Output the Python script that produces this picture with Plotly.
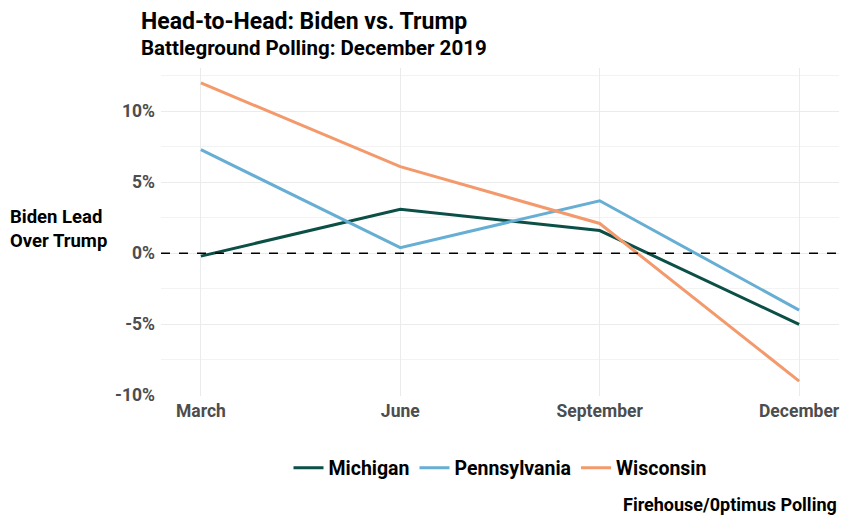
import plotly.graph_objects as go

months = ["March", "June", "September", "December"]
michigan = [-0.2, 3.1, 1.6, -5.0]
pennsylvania = [7.3, 0.4, 3.7, -4.0]
wisconsin = [12.0, 6.1, 2.1, -9.0]
y_ticks = [-10, -5, 0, 5, 10]
y_tick_labels = ["-10%", "-5%", "0%", "5%", "10%"]

series = [
    ("Michigan", michigan, "#0b4f47"),
    ("Pennsylvania", pennsylvania, "#67aed4"),
    ("Wisconsin", wisconsin, "#f4996b"),
]

FONT = "Roboto"
fig = go.Figure()
for name, vals, col in series:
    fig.add_trace(go.Scatter(x=months, y=vals, mode="lines", name=name,
                             line=dict(color=col, width=3)))

fig.add_shape(type="line", xref="paper", x0=0, x1=1, yref="y", y0=0, y1=0,
              line=dict(color="black", width=1.5, dash="dash"), layer="above",
              opacity=1)

fig.update_layout(
    width=843, height=516,
    margin=dict(l=161, r=4, t=68, b=120),
    plot_bgcolor="white", paper_bgcolor="white",
    font=dict(family=FONT, color="#222222"),
    showlegend=True,
    legend=dict(orientation="h", x=0.5, xanchor="center", y=-0.22, yanchor="middle",
                font=dict(family=FONT, size=19.5, color="black", weight=700),
                itemwidth=30, tracegroupgap=0),
    xaxis=dict(type="category", range=[-0.2, 3.2], showgrid=True, gridcolor="#ebebeb",
               gridwidth=1, zeroline=False, showline=False, ticks="",
               ticklabelstandoff=2,
               tickfont=dict(family=FONT, size=17.5, color="#4d4d4d", weight=700)),
    yaxis=dict(range=[-10.05, 13.05], tickvals=y_ticks, ticktext=y_tick_labels,
               showgrid=True, gridcolor="#ebebeb", gridwidth=1, zeroline=False,
               showline=False, ticks="", ticklabelstandoff=5,
               minor=dict(dtick=2.5, tick0=0, showgrid=True, gridcolor="#f3f3f3", gridwidth=1),
               tickfont=dict(family=FONT, size=17.5, color="#4d4d4d", weight=700)),
    annotations=[
        dict(text="Head-to-Head: Biden vs. Trump", xref="paper", yref="paper",
             x=-0.032, y=1.142, xanchor="left", yanchor="middle", showarrow=False,
             font=dict(family=FONT, size=23, color="black", weight=700)),
        dict(text="Battleground Polling: December 2019", xref="paper", yref="paper",
             x=-0.032, y=1.062, xanchor="left", yanchor="middle", showarrow=False,
             font=dict(family=FONT, size=20.5, color="black", weight=700)),
        dict(text="Biden Lead<br>Over Trump", xref="paper", yref="paper",
             x=-0.225, y=0.51, xanchor="left", yanchor="middle", align="left",
             showarrow=False,
             font=dict(family=FONT, size=18.5, color="black", weight=700)),
        dict(text="Firehouse/0ptimus Polling", xref="paper", yref="paper",
             x=1.0, y=-0.33, xanchor="right", yanchor="middle", showarrow=False,
             font=dict(family=FONT, size=18, color="black", weight=700)),
    ],
)

fig.write_html("out.html")
